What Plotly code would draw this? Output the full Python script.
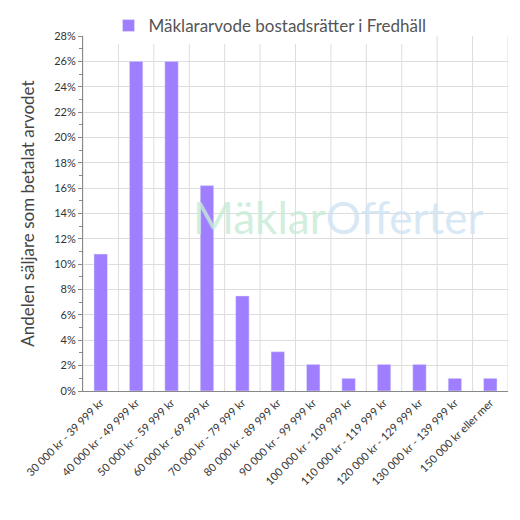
import plotly.graph_objects as go

categories = ['30 000 kr - 39 999 kr', '40 000 kr - 49 999 kr', '50 000 kr - 59 999 kr',
              '60 000 kr - 69 999 kr', '70 000 kr - 79 999 kr', '80 000 kr - 89 999 kr',
              '90 000 kr - 99 999 kr', '100 000 kr - 109 999 kr', '110 000 kr - 119 999 kr',
              '120 000 kr - 129 999 kr', '130 000 kr - 139 999 kr', '150 000 kr eller mer']
values = [10.8, 26.0, 26.0, 16.2, 7.5, 3.1, 2.1, 1.0, 2.1, 2.1, 1.0, 1.0]
series_name = 'Mäklararvode bostadsrätter i Fredhäll'

fig = go.Figure()
fig.add_trace(go.Bar(x=list(range(len(categories))), y=values, name=series_name,
                     marker_color='#9f7fff', width=0.38))

fig.add_annotation(text='<span style="color:#c8ecd6">Mäklar</span><span style="color:#cfe3f3">Offerter</span>',
                   xref='paper', yref='paper', x=0.6, y=0.49, showarrow=False,
                   font=dict(size=44, family='Lato'), opacity=0.8)

fig.update_layout(
    width=520, height=520, plot_bgcolor='white', paper_bgcolor='white',
    font=dict(family='Lato', color='#333', size=11),
    margin=dict(l=75, r=20, t=28, b=137, autoexpand=False),
    showlegend=True,
    legend=dict(orientation='h', x=0.44, xanchor='center', y=1.0, yref='container', yanchor='top',
                font=dict(size=17, color='#555'), borderwidth=0),
    bargap=0.6,
)
fig.update_xaxes(tickmode='array', tickvals=list(range(len(categories))), ticktext=categories,
                 tickangle=-45, range=[-0.5, len(categories) - 0.5], showgrid=False,
                 showline=True, linecolor='#888', tickfont=dict(size=11, color='#333'))
for i in range(len(categories) + 1):
    fig.add_vline(x=i - 0.5, line=dict(color='#dddddd', width=1), layer='below')
fig.update_yaxes(range=[0, 28], dtick=2, ticksuffix='%', gridcolor='#dddddd',
                 showline=True, linecolor='#888', ticks='outside', tickcolor='#888', ticklen=4,
                 minor=dict(dtick=1, ticks='outside', ticklen=3, tickcolor='#888', showgrid=False),
                 title=dict(text='Andelen säljare som betalat arvodet', font=dict(size=17, color='#444')),
                 zeroline=False)

fig.write_html('out.html')
